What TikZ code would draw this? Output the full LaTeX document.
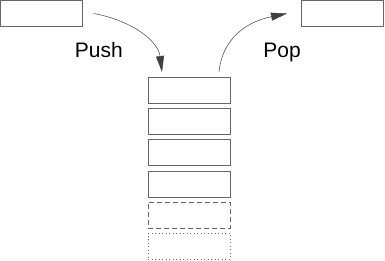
\documentclass[tikz,border=0pt]{standalone}
\usepackage{fontspec}
\setmainfont{Liberation Sans}
\usetikzlibrary{arrows.meta}
\begin{document}
\begin{tikzpicture}[x=1pt,y=-1pt,
  cell/.style={draw=black!60, line width=0.8pt, minimum width=82pt, minimum height=26pt, inner sep=0pt, outer sep=0pt},
  flow/.style={draw=black!75, line width=0.5pt, -{Triangle[length=16pt,width=8pt]}},
  lbl/.style={font=\fontsize{21}{25}\selectfont, anchor=base, inner sep=0pt}]
\useasboundingbox (0,0) rectangle (385,260);
\node[cell] (in) at (41.5,13.5) {};
\node[cell] (out) at (342,13.5) {};
\node[cell] (s1) at (189,90) {};
\node[cell] (s2) at (189,121) {};
\node[cell] (s3) at (189,152.5) {};
\node[cell] (s4) at (189,184) {};
\node[cell, dashed, dash pattern=on 5pt off 3pt] (s5) at (189,215) {};
\node[cell, dotted, dash pattern=on 1pt off 2.5pt] (s6) at (189,246.3) {};
\node[lbl] (push) at (98.8,57.3) {Push};
\node[lbl] (pop) at (282,57.3) {Pop};
\coordinate (pushstart) at ([xshift=11pt]in.east);
\coordinate (pushend) at ([xshift=-27pt,yshift=5pt]s1.north);
\coordinate (popstart) at ([xshift=30pt,yshift=5pt]s1.north);
\coordinate (popend) at ([xshift=-14pt]out.west);
\draw[flow] (pushstart) .. controls (130,20) and (158,40) .. (pushend);
\draw[flow] (popstart) .. controls (222,40) and (245,22) .. (popend);
\end{tikzpicture}
\end{document}
